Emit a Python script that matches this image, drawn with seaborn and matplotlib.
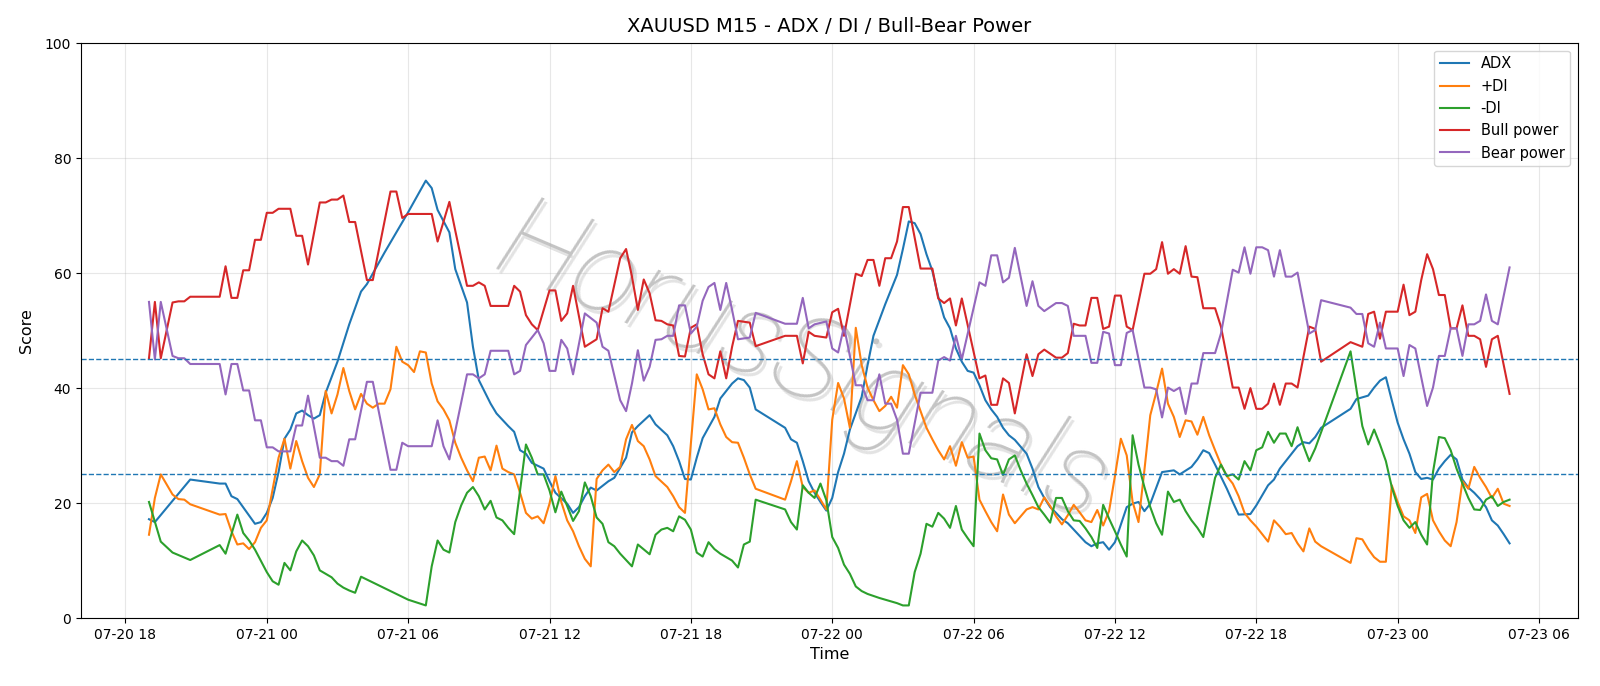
import pandas as pd
import matplotlib
matplotlib.use("Agg")
import matplotlib.pyplot as plt
import matplotlib.dates as mdates
import seaborn as sns

# bar index on the M15 grid (0 = 07-20 19:00) and value at each visible vertex
adx_bar = [0, 1, 7, 12, 13, 14, 15, 18, 19, 20, 21, 22, 23, 24, 25, 26, 27, 28, 29, 30,
           32, 34, 36, 37, 40, 42, 44, 47, 48, 49, 51, 52, 54, 55, 56, 58, 59, 61, 62, 63,
           64, 65, 67, 68, 69, 71, 72, 73, 74, 75, 76, 77, 78, 79, 81, 82, 83, 85, 86, 88,
           89, 90, 91, 92, 93, 94, 96, 97, 99, 100, 101, 102, 103, 108, 109, 110, 111, 112, 113, 114,
           115, 116, 117, 118, 119, 121, 122, 123, 125, 127, 128, 129, 130, 131, 132, 133, 134, 135, 136, 137,
           138, 139, 140, 141, 142, 143, 144, 145, 146, 147, 149, 150, 151, 152, 153, 154, 155, 156, 157, 159,
           160, 161, 162, 163, 164, 166, 167, 168, 169, 170, 172, 174, 175, 177, 178, 179, 180, 181, 183, 184,
           185, 187, 188, 190, 191, 192, 193, 195, 196, 197, 198, 199, 204, 205, 207, 208, 209, 210, 211, 212,
           213, 214, 215, 216, 217, 218, 219, 220, 221, 222, 223, 224, 225, 226, 227, 228, 229, 230, 231]
adx_val = [17.2, 16.7, 24.1, 23.4, 23.4, 21.2, 20.7, 16.4, 16.7, 18.3, 20.9, 25.4, 31.2, 32.8, 35.6, 36.1, 35.3, 34.7, 35.3, 39.2,
           44.6, 51.1, 56.8, 58.1, 63.6, 67.1, 70.6, 76.1, 74.8, 71.0, 67.1, 60.7, 54.9, 47.2, 41.4, 37.3, 35.6, 33.4, 32.4, 29.2,
           28.6, 27.0, 26.0, 23.8, 21.8, 19.9, 18.3, 19.3, 21.2, 22.7, 22.2, 23.0, 23.8, 24.4, 27.9, 32.3, 33.4, 35.3, 33.7, 31.8,
           29.9, 27.3, 24.2, 24.1, 27.9, 31.3, 35.0, 38.2, 40.8, 41.7, 41.4, 40.1, 36.3, 33.1, 31.1, 30.5, 27.3, 23.8, 21.8, 20.2,
           18.7, 20.9, 25.4, 28.6, 32.8, 38.5, 44.0, 49.1, 54.6, 59.7, 64.2, 69.0, 68.7, 66.8, 63.3, 60.4, 55.9, 52.3, 50.4, 46.9,
           44.6, 43.0, 42.7, 40.5, 37.9, 36.3, 35.0, 33.1, 31.8, 31.0, 28.6, 26.0, 22.8, 20.9, 19.3, 18.3, 17.2, 16.5, 15.4, 13.2,
           12.5, 13.0, 13.2, 11.9, 13.2, 19.3, 19.9, 20.2, 18.6, 19.9, 25.4, 25.7, 25.0, 26.3, 27.6, 29.2, 28.7, 26.7, 22.5, 20.2,
           18.0, 18.1, 19.6, 23.1, 24.1, 26.0, 27.3, 29.9, 30.6, 30.4, 31.5, 33.1, 36.4, 38.1, 38.7, 40.1, 41.3, 41.9, 37.9, 34.0,
           31.1, 28.6, 25.4, 24.2, 24.4, 24.1, 26.0, 27.3, 28.4, 27.6, 24.1, 22.7, 21.8, 20.7, 19.3, 17.0, 16.1, 14.6, 13.0]

pdi_bar = [0, 1, 2, 4, 5, 6, 7, 12, 13, 14, 15, 16, 17, 18, 19, 20, 21, 22, 23, 24,
           25, 26, 27, 28, 29, 30, 31, 32, 33, 34, 35, 36, 37, 38, 39, 40, 41, 42, 43, 44,
           45, 46, 47, 48, 49, 50, 51, 52, 53, 54, 55, 56, 57, 58, 59, 60, 61, 62, 63, 64,
           65, 66, 67, 68, 69, 70, 71, 72, 73, 74, 75, 76, 77, 78, 79, 80, 81, 82, 83, 84,
           85, 86, 88, 89, 90, 91, 93, 94, 95, 96, 97, 98, 99, 100, 101, 102, 103, 108, 109, 110,
           111, 112, 113, 114, 115, 116, 117, 118, 119, 120, 121, 122, 123, 124, 125, 126, 127, 128, 129, 130,
           131, 132, 133, 134, 135, 136, 137, 138, 139, 140, 141, 142, 143, 144, 145, 146, 147, 148, 149, 150,
           151, 152, 153, 154, 155, 156, 157, 158, 159, 160, 161, 162, 163, 164, 165, 166, 167, 168, 169, 170,
           171, 172, 173, 174, 175, 176, 177, 178, 179, 180, 181, 182, 183, 184, 185, 186, 187, 188, 189, 190,
           191, 192, 193, 194, 195, 196, 197, 198, 199, 204, 205, 206, 207, 208, 209, 210, 211, 212, 213, 214,
           215, 216, 217, 218, 219, 220, 221, 222, 223, 224, 225, 226, 227, 228, 229, 230, 231]
pdi_val = [14.5, 20.9, 25.0, 21.5, 20.7, 20.6, 19.8, 18.0, 18.1, 15.1, 12.8, 13.0, 12.0, 13.2, 15.7, 17.0, 22.5, 27.9, 31.2, 26.0,
           30.8, 27.3, 24.4, 22.8, 25.0, 39.5, 35.6, 38.9, 43.5, 39.5, 36.3, 39.0, 37.3, 36.6, 37.3, 37.3, 39.8, 47.2, 44.6, 44.0,
           42.8, 46.4, 46.2, 40.8, 37.7, 36.3, 34.4, 30.5, 27.9, 25.7, 23.8, 27.9, 28.1, 25.7, 30.0, 26.0, 25.4, 25.0, 21.8, 18.3,
           17.3, 17.7, 16.5, 19.9, 24.7, 20.2, 17.0, 15.1, 12.5, 10.3, 9.0, 24.2, 25.7, 26.7, 25.4, 26.3, 31.1, 33.6, 30.8, 29.9,
           27.6, 24.7, 22.8, 21.2, 19.3, 18.3, 42.4, 39.8, 36.3, 36.5, 33.7, 31.5, 30.6, 30.5, 27.9, 25.0, 22.5, 20.6, 23.8, 27.3,
           22.8, 21.8, 22.2, 20.6, 18.9, 34.5, 40.9, 38.2, 33.1, 50.5, 44.0, 40.1, 37.9, 36.0, 36.9, 38.5, 36.6, 44.0, 42.4, 38.9,
           36.0, 33.1, 31.1, 29.2, 27.6, 29.9, 26.5, 30.6, 27.9, 28.1, 20.6, 18.6, 16.7, 15.1, 21.5, 18.0, 16.5, 17.7, 18.9, 19.3,
           18.9, 21.0, 19.5, 17.7, 16.3, 17.9, 19.7, 18.4, 17.0, 16.7, 18.8, 16.1, 18.6, 24.7, 31.2, 28.3, 20.2, 16.7, 25.7, 35.3,
           39.2, 43.4, 37.3, 35.0, 31.5, 34.4, 34.2, 31.9, 35.0, 31.8, 29.2, 26.7, 24.7, 23.4, 21.2, 18.3, 17.0, 15.9, 14.6, 13.3,
           17.0, 15.9, 14.6, 14.8, 13.0, 11.6, 15.6, 13.3, 12.5, 9.6, 13.9, 13.7, 12.0, 10.6, 9.8, 9.8, 23.1, 20.2, 17.7, 17.0,
           14.8, 21.0, 21.6, 17.0, 15.1, 13.5, 12.5, 16.7, 23.8, 22.5, 26.3, 24.4, 22.8, 20.9, 22.5, 19.9, 19.5]

mdi_bar = [0, 2, 4, 7, 12, 13, 15, 16, 17, 18, 20, 21, 22, 23, 24, 25, 26, 27, 28, 29,
           30, 31, 32, 33, 34, 35, 36, 37, 38, 39, 42, 44, 47, 48, 49, 50, 51, 52, 53, 54,
           55, 56, 57, 58, 59, 60, 61, 62, 63, 64, 65, 66, 67, 68, 69, 70, 71, 72, 73, 74,
           75, 76, 77, 78, 79, 80, 82, 83, 85, 86, 87, 88, 89, 90, 91, 92, 93, 94, 95, 96,
           97, 98, 99, 100, 101, 102, 103, 108, 109, 110, 111, 112, 113, 114, 115, 116, 117, 118, 119, 120,
           121, 122, 124, 126, 127, 128, 129, 130, 131, 132, 133, 134, 135, 136, 137, 138, 139, 140, 141, 142,
           143, 144, 145, 146, 147, 148, 149, 150, 151, 152, 153, 154, 155, 156, 157, 158, 159, 160, 161, 162,
           163, 164, 165, 166, 167, 168, 169, 170, 171, 172, 173, 174, 175, 176, 177, 178, 179, 180, 181, 182,
           183, 184, 185, 186, 187, 188, 189, 190, 191, 192, 193, 194, 195, 196, 197, 198, 204, 205, 206, 207,
           208, 209, 210, 211, 212, 213, 214, 215, 216, 217, 218, 219, 220, 221, 222, 223, 224, 225, 226, 227,
           228, 229, 230, 231]
mdi_val = [20.2, 13.3, 11.4, 10.1, 12.7, 11.2, 18.0, 14.8, 13.5, 11.9, 8.0, 6.4, 5.8, 9.6, 8.3, 11.6, 13.5, 12.5, 10.9, 8.3,
           7.7, 7.1, 6.0, 5.3, 4.8, 4.4, 7.2, 6.7, 6.2, 5.7, 4.2, 3.2, 2.2, 9.0, 13.5, 11.9, 11.4, 16.7, 19.6, 21.8,
           22.8, 21.2, 18.9, 20.4, 17.5, 17.0, 15.7, 14.6, 22.2, 30.2, 27.9, 25.0, 25.0, 22.2, 18.4, 22.0, 19.5, 16.9, 18.6, 23.6,
           21.2, 17.5, 16.4, 13.2, 12.5, 11.2, 9.0, 12.8, 11.1, 14.5, 15.4, 15.7, 15.1, 17.7, 17.1, 15.4, 11.4, 10.7, 13.2, 12.0,
           11.2, 10.6, 10.0, 8.8, 12.8, 13.3, 20.6, 18.9, 16.7, 15.4, 23.1, 21.8, 20.9, 23.4, 20.5, 14.1, 12.2, 9.3, 7.7, 5.5,
           4.7, 4.2, 3.5, 2.9, 2.6, 2.2, 2.2, 8.0, 11.2, 16.4, 15.9, 18.3, 17.3, 15.7, 19.5, 15.4, 13.9, 12.5, 32.1, 29.2,
           27.8, 27.6, 24.9, 27.6, 28.3, 25.7, 23.4, 21.4, 19.3, 18.0, 16.6, 20.9, 20.9, 18.6, 17.0, 16.9, 15.6, 14.1, 12.2, 19.7,
           17.3, 15.1, 12.8, 10.7, 31.8, 26.7, 22.8, 19.3, 16.5, 14.5, 22.0, 20.2, 20.6, 18.6, 17.0, 15.7, 14.1, 19.3, 24.4, 26.7,
           24.7, 25.0, 24.1, 27.3, 25.7, 29.2, 29.7, 32.4, 30.5, 32.1, 32.1, 29.9, 33.2, 30.0, 27.3, 29.5, 46.4, 39.8, 33.4, 30.2,
           32.8, 30.2, 27.3, 22.8, 19.5, 17.0, 15.7, 16.7, 14.5, 12.8, 25.4, 31.5, 31.3, 29.2, 26.0, 23.4, 20.9, 18.9, 18.8, 20.6,
           21.2, 19.5, 20.2, 20.6]

bull_bar = [0, 1, 2, 4, 5, 6, 7, 12, 13, 14, 15, 16, 17, 18, 19, 20, 21, 22, 24, 25,
            26, 27, 29, 30, 31, 32, 33, 34, 35, 37, 38, 41, 42, 43, 44, 48, 49, 51, 52, 54,
            55, 56, 57, 58, 61, 62, 63, 64, 65, 66, 68, 69, 70, 71, 72, 74, 76, 77, 78, 80,
            81, 82, 83, 84, 85, 86, 87, 88, 89, 90, 91, 92, 93, 94, 95, 96, 97, 98, 99, 100,
            102, 103, 108, 110, 111, 112, 113, 115, 116, 117, 118, 120, 121, 122, 123, 124, 125, 126, 127, 128,
            129, 131, 133, 134, 135, 136, 137, 138, 141, 142, 143, 144, 145, 146, 147, 149, 150, 151, 152, 154,
            155, 156, 157, 158, 159, 160, 161, 162, 163, 164, 165, 166, 167, 169, 170, 171, 172, 173, 174, 175,
            176, 177, 178, 179, 181, 182, 184, 185, 186, 187, 188, 189, 190, 191, 192, 193, 194, 195, 197, 198,
            199, 204, 206, 207, 208, 209, 210, 212, 213, 214, 215, 216, 217, 218, 219, 220, 221, 222, 223, 224,
            225, 226, 227, 228, 229, 231]
bull_val = [45.2, 55.0, 45.2, 54.9, 55.1, 55.1, 55.9, 55.9, 61.2, 55.7, 55.7, 60.5, 60.5, 65.8, 65.8, 70.5, 70.5, 71.2, 71.2, 66.5,
            66.5, 61.5, 72.3, 72.3, 72.8, 72.8, 73.5, 68.9, 68.9, 58.8, 58.8, 74.2, 74.2, 69.6, 70.3, 70.3, 65.5, 72.4, 67.4, 57.8,
            57.8, 58.4, 57.8, 54.3, 54.3, 57.8, 56.8, 52.7, 51.1, 50.1, 57.0, 57.0, 51.7, 53.0, 57.8, 47.2, 48.5, 53.9, 53.3, 62.6,
            64.2, 59.4, 53.6, 58.9, 56.5, 51.8, 51.7, 51.1, 50.9, 45.6, 45.5, 50.5, 51.1, 45.9, 42.4, 41.7, 46.4, 41.7, 47.2, 51.7,
            51.4, 47.3, 49.1, 49.1, 44.3, 49.8, 49.1, 48.8, 53.2, 53.8, 49.1, 59.9, 59.5, 62.3, 62.3, 57.8, 62.6, 62.6, 65.5, 71.5,
            71.5, 60.8, 60.8, 55.6, 54.8, 55.6, 50.9, 55.6, 41.7, 42.2, 37.1, 37.1, 41.7, 40.9, 35.6, 45.9, 42.1, 45.9, 46.7, 45.3,
            45.3, 46.1, 51.2, 50.9, 50.9, 55.7, 55.7, 50.3, 50.7, 56.1, 56.1, 50.7, 50.1, 59.9, 59.9, 60.7, 65.4, 59.9, 60.7, 59.9,
            64.7, 59.4, 59.3, 53.9, 53.9, 50.7, 40.1, 40.1, 36.4, 40.0, 36.4, 36.4, 37.3, 40.8, 37.1, 40.8, 40.8, 40.1, 50.7, 50.3,
            44.6, 48.0, 47.2, 52.9, 53.3, 48.6, 53.3, 53.3, 58.0, 52.7, 53.3, 58.8, 63.3, 60.7, 56.2, 56.2, 50.4, 50.4, 54.4, 49.1,
            49.1, 48.5, 43.7, 48.5, 49.1, 39.0]

bear_bar = [0, 1, 2, 4, 5, 6, 7, 12, 13, 14, 15, 16, 17, 18, 19, 20, 21, 22, 24, 25,
            26, 27, 29, 30, 31, 32, 33, 34, 35, 37, 38, 41, 42, 43, 44, 48, 49, 50, 51, 54,
            55, 56, 57, 58, 61, 62, 63, 64, 66, 67, 68, 69, 70, 71, 72, 74, 76, 77, 78, 80,
            81, 82, 83, 84, 85, 86, 87, 88, 89, 90, 91, 92, 93, 94, 95, 96, 97, 98, 99, 100,
            102, 103, 108, 110, 111, 112, 113, 115, 116, 117, 118, 120, 121, 122, 123, 124, 125, 126, 127, 128,
            129, 131, 133, 134, 135, 136, 137, 138, 141, 142, 143, 144, 145, 146, 147, 149, 150, 151, 152, 154,
            155, 156, 157, 159, 160, 161, 162, 163, 164, 165, 166, 167, 169, 170, 171, 172, 173, 174, 175, 176,
            177, 178, 179, 181, 182, 184, 185, 186, 187, 188, 189, 190, 191, 192, 193, 194, 195, 197, 198, 199,
            204, 205, 206, 207, 208, 209, 210, 212, 213, 214, 215, 217, 218, 219, 220, 221, 222, 223, 224, 225,
            226, 227, 228, 229, 231]
bear_val = [55.0, 45.0, 55.0, 45.6, 45.2, 45.2, 44.2, 44.2, 38.9, 44.2, 44.2, 39.6, 39.6, 34.4, 34.4, 29.7, 29.7, 29.0, 29.0, 33.5,
            33.5, 38.7, 27.9, 27.9, 27.3, 27.3, 26.5, 31.1, 31.1, 41.1, 41.1, 25.8, 25.8, 30.5, 29.9, 29.9, 34.4, 29.9, 27.6, 42.4,
            42.4, 41.7, 42.4, 46.5, 46.5, 42.4, 43.0, 47.5, 50.1, 47.8, 43.0, 43.0, 48.4, 46.9, 42.4, 53.0, 51.4, 47.2, 46.5, 37.9,
            36.0, 40.8, 46.6, 41.3, 43.7, 48.4, 48.5, 49.1, 49.1, 54.4, 54.4, 49.5, 50.7, 55.2, 57.6, 58.3, 53.6, 58.3, 53.6, 48.5,
            48.8, 53.1, 51.2, 51.2, 55.7, 50.4, 51.1, 51.6, 46.9, 46.2, 50.7, 40.5, 40.5, 37.9, 37.9, 42.4, 37.3, 37.3, 34.5, 28.6,
            28.6, 39.2, 39.2, 44.8, 45.4, 44.8, 49.1, 45.0, 58.4, 57.8, 63.1, 63.1, 58.4, 59.2, 64.4, 54.3, 58.6, 54.3, 53.4, 54.8,
            54.8, 54.3, 49.1, 49.1, 44.4, 44.4, 49.8, 49.5, 44.0, 44.0, 49.6, 50.1, 40.1, 40.1, 39.8, 34.9, 40.1, 39.5, 40.1, 35.5,
            40.8, 40.8, 46.1, 46.1, 49.5, 60.6, 60.1, 64.5, 59.9, 64.5, 64.5, 64.0, 59.4, 64.0, 59.4, 59.4, 60.1, 49.5, 50.1, 55.3,
            54.0, 52.9, 52.9, 47.8, 47.2, 51.4, 46.9, 46.9, 42.1, 47.5, 46.9, 36.9, 40.1, 45.6, 45.6, 50.4, 50.4, 45.6, 51.1, 51.1,
            51.7, 56.3, 51.7, 51.1, 61.0]

start = pd.Timestamp("2025-07-20 19:00")


def to_frame(bars, vals):
    return pd.DataFrame({"time": start + pd.to_timedelta([b * 15 for b in bars], unit="min"),
                         "value": vals})


series = [
    ("ADX", adx_bar, adx_val, "#1f77b4"),
    ("+DI", pdi_bar, pdi_val, "#ff7f0e"),
    ("-DI", mdi_bar, mdi_val, "#2ca02c"),
    ("Bull power", bull_bar, bull_val, "#d62728"),
    ("Bear power", bear_bar, bear_val, "#9467bd"),
]

fig, ax = plt.subplots(figsize=(16, 6.86), dpi=100)
fig.subplots_adjust(left=0.0506, right=0.986, top=0.937, bottom=0.099)

# watermark with a soft shadow
wm = dict(transform=ax.transAxes, rotation=-23, ha="center", va="center",
          fontsize=84, family=["Roboto", "DejaVu Sans"], style="italic",
          weight="light", zorder=0.5)
ax.text(0.484, 0.432, "HorusSignals", color="#e3e3e3", **wm)
ax.text(0.482, 0.438, "HorusSignals", color="#c4c4c4", **wm)

for name, bars, vals, color in series:
    df = to_frame(bars, vals)
    sns.lineplot(data=df, x="time", y="value", ax=ax, label=name, color=color,
                 linewidth=1.5, estimator=None, sort=True)

ax.axhline(25, color="#1f77b4", linestyle="--", linewidth=1)
ax.axhline(45, color="#1f77b4", linestyle="--", linewidth=1)

ax.set_ylim(0, 100)
ax.xaxis.set_major_locator(mdates.HourLocator(byhour=[0, 6, 12, 18]))
ax.xaxis.set_major_formatter(mdates.DateFormatter("%m-%d %H"))
ax.grid(True, alpha=0.3)
ax.set_title("XAUUSD M15 - ADX / DI / Bull-Bear Power", fontsize=14, pad=8)
ax.set_xlabel("Time", fontsize=11.5)
ax.set_ylabel("Score", fontsize=11.5, labelpad=8)
ax.legend(loc="upper right", fontsize=10.5)

fig.savefig("out.png", dpi=100)
